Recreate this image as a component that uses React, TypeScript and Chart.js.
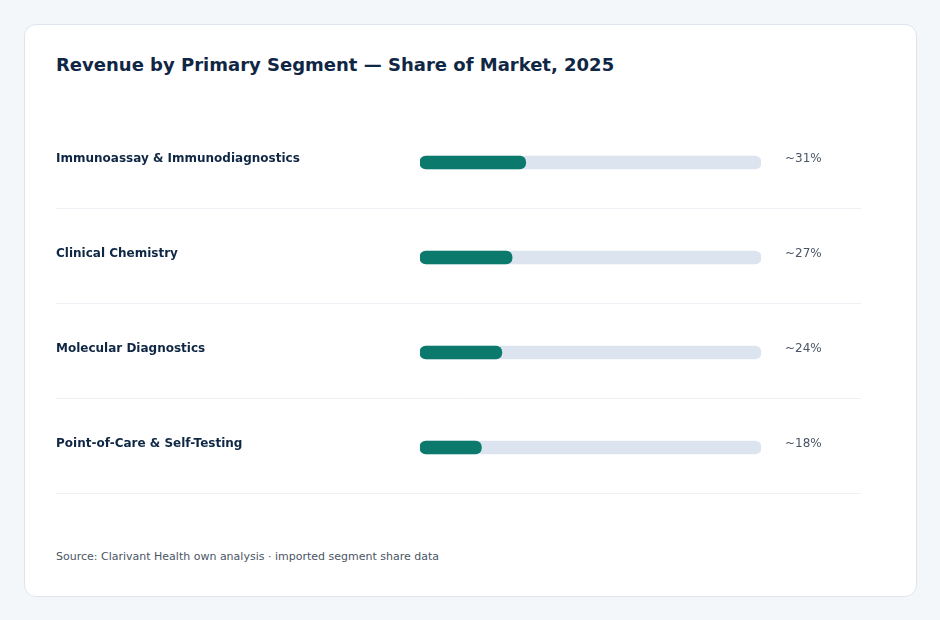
import React, { useEffect, useRef } from "react";
import { Chart, registerables } from "chart.js";

Chart.register(...registerables);

// Segment names, their share of market (%) and the printed share labels
const SEGMENTS = [
  "Immunoassay & Immunodiagnostics",
  "Clinical Chemistry",
  "Molecular Diagnostics",
  "Point-of-Care & Self-Testing",
];
const SHARE = [31, 27, 24, 18];
const SHARE_LABELS = ["~31%", "~27%", "~24%", "~18%"];
const SCALE_MAX = 100;

const TITLE = "Revenue by Primary Segment \u2014 Share of Market, 2025";
const SOURCE = "Source: Clarivant Health own analysis \u00b7 imported segment share data";

const FONT = "'DejaVu Sans', 'Noto Sans', sans-serif";
const NAVY = "#0f2744";
const TEAL = "#0b7a6d";
const TRACK = "#dbe4ef";
const MUTED = "#4a5565";
const RULE = "#edf1f5";

// Draws the row separators and the share labels to the right of each track
const rowDecor = {
  id: "rowDecor",
  beforeDatasetsDraw(chart: any) {
    const { ctx } = chart;
    const y = chart.scales.y;
    const band = SEGMENTS.length > 1 ? y.getPixelForValue(1) - y.getPixelForValue(0) : 95;
    ctx.save();
    ctx.strokeStyle = RULE;
    ctx.lineWidth = 1;
    SEGMENTS.forEach((_, i) => {
      const py = Math.round(y.getPixelForValue(i) + band / 2 - 2) + 0.5;
      ctx.beginPath();
      ctx.moveTo(31, py);
      ctx.lineTo(836, py);
      ctx.stroke();
    });
    ctx.restore();
  },
  afterDatasetsDraw(chart: any) {
    const { ctx, chartArea } = chart;
    const y = chart.scales.y;
    ctx.save();
    ctx.font = `12px ${FONT}`;
    ctx.fillStyle = MUTED;
    ctx.textAlign = "left";
    ctx.textBaseline = "middle";
    SHARE_LABELS.forEach((txt, i) => {
      ctx.fillText(txt, chartArea.right + 24, y.getPixelForValue(i) - 4);
    });
    ctx.restore();
  },
};

function SegmentBars() {
  const ref = useRef<HTMLCanvasElement | null>(null);

  useEffect(() => {
    if (!ref.current) return;
    const chart = new Chart(ref.current, {
      type: "bar",
      data: {
        labels: SEGMENTS,
        datasets: [
          {
            label: "Share",
            data: SHARE,
            backgroundColor: TEAL,
            borderRadius: 6,
            borderSkipped: false,
            barThickness: 13,
            order: 0,
          },
          {
            label: "Track",
            data: SEGMENTS.map(() => SCALE_MAX),
            backgroundColor: TRACK,
            borderRadius: 6,
            borderSkipped: false,
            barThickness: 13,
            order: 1,
          },
        ],
      },
      options: {
        indexAxis: "y",
        responsive: false,
        maintainAspectRatio: false,
        animation: false,
        layout: { padding: { left: 31, right: 154, top: 10, bottom: 10 } },
        datasets: { bar: { grouped: false } },
        plugins: {
          legend: { display: false },
          tooltip: { enabled: false },
        },
        scales: {
          x: { display: false, min: 0, max: SCALE_MAX },
          y: {
            grid: { display: false },
            border: { display: false },
            afterFit: (s: any) => {
              s.width = 364;
            },
            ticks: {
              autoSkip: false,
              crossAlign: "far",
              labelOffset: -4,
              padding: 0,
              color: NAVY,
              font: { family: FONT, size: 12, weight: "bold" },
            },
          },
        },
      },
      plugins: [rowDecor],
    } as any);
    return () => chart.destroy();
  }, []);

  return (
    <canvas
      ref={ref}
      width={890}
      height={400}
      style={{ position: "absolute", left: 0, top: 80, width: 890, height: 400 }}
    />
  );
}

export default function App() {
  return (
    <div
      style={{
        position: "fixed",
        inset: 0,
        width: 940,
        height: 620,
        background: "#f4f7fa",
        fontFamily: FONT,
        overflow: "hidden",
      }}
    >
      <div
        style={{
          position: "absolute",
          left: 24,
          top: 24,
          width: 891,
          height: 571,
          background: "#ffffff",
          border: "1px solid #dfe5ec",
          borderRadius: 12,
        }}
      >
        <div
          style={{
            position: "absolute",
            left: 31,
            top: 28,
            fontSize: 18,
            lineHeight: "24px",
            fontWeight: "bold",
            color: NAVY,
            whiteSpace: "nowrap",
          }}
        >
          {TITLE}
        </div>
        <SegmentBars />
        <div
          style={{
            position: "absolute",
            left: 31,
            top: 525,
            fontSize: 11,
            lineHeight: "14px",
            color: MUTED,
            whiteSpace: "nowrap",
          }}
        >
          {SOURCE}
        </div>
      </div>
    </div>
  );
}
